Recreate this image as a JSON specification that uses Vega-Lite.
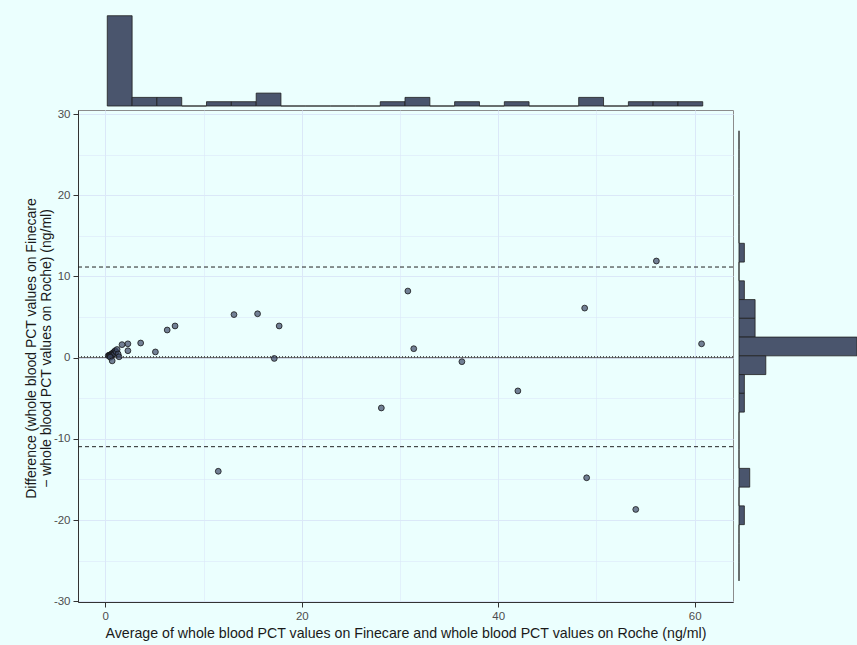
{
  "$schema": "https://vega.github.io/schema/vega-lite/v6.json",
  "background": "#ebfffe",
  "padding": {"left": 23, "top": 11, "right": 0, "bottom": 3},
  "config": {
    "font": "Liberation Sans",
    "view": {"stroke": null}
  },
  "datasets": {
    "points": [
      {"avg": 11.5, "diff": -14.0}, {"avg": 13.1, "diff": 5.3}, {"avg": 15.5, "diff": 5.4},
      {"avg": 17.2, "diff": -0.1}, {"avg": 17.7, "diff": 3.9}, {"avg": 28.1, "diff": -6.2},
      {"avg": 30.8, "diff": 8.2}, {"avg": 31.4, "diff": 1.1}, {"avg": 36.3, "diff": -0.5},
      {"avg": 42.0, "diff": -4.1}, {"avg": 48.8, "diff": 6.1}, {"avg": 49.0, "diff": -14.8},
      {"avg": 54.0, "diff": -18.7}, {"avg": 56.1, "diff": 11.9}, {"avg": 60.7, "diff": 1.7},
      {"avg": 6.3, "diff": 3.4}, {"avg": 7.1, "diff": 3.9}, {"avg": 3.6, "diff": 1.8},
      {"avg": 5.1, "diff": 0.7}, {"avg": 2.3, "diff": 1.7}, {"avg": 2.3, "diff": 0.85},
      {"avg": 1.7, "diff": 1.6},
      {"avg": 0.3, "diff": 0.25}, {"avg": 0.4, "diff": 0.3}, {"avg": 0.45, "diff": 0.25},
      {"avg": 0.5, "diff": 0.35}, {"avg": 0.6, "diff": 0.4}, {"avg": 0.65, "diff": 0.3},
      {"avg": 0.7, "diff": 0.5}, {"avg": 0.75, "diff": 0.4}, {"avg": 0.8, "diff": 0.6},
      {"avg": 0.9, "diff": 0.7}, {"avg": 0.95, "diff": 0.5}, {"avg": 1.0, "diff": 0.85},
      {"avg": 1.1, "diff": 0.7}, {"avg": 1.2, "diff": 1.0}, {"avg": 1.3, "diff": 0.45},
      {"avg": 0.5, "diff": 0.05}, {"avg": 0.7, "diff": -0.4}, {"avg": 1.4, "diff": 0.1}
    ],
    "xhist": [
      {"x0": 0.2, "x1": 2.73, "count": 21}, {"x0": 2.73, "x1": 5.25, "count": 2},
      {"x0": 5.25, "x1": 7.78, "count": 2}, {"x0": 7.78, "x1": 10.3, "count": 0},
      {"x0": 10.3, "x1": 12.83, "count": 1}, {"x0": 12.83, "x1": 15.36, "count": 1},
      {"x0": 15.36, "x1": 17.88, "count": 3}, {"x0": 17.88, "x1": 20.41, "count": 0},
      {"x0": 20.41, "x1": 22.93, "count": 0}, {"x0": 22.93, "x1": 25.46, "count": 0},
      {"x0": 25.46, "x1": 27.99, "count": 0}, {"x0": 27.99, "x1": 30.51, "count": 1},
      {"x0": 30.51, "x1": 33.04, "count": 2}, {"x0": 33.04, "x1": 35.56, "count": 0},
      {"x0": 35.56, "x1": 38.09, "count": 1}, {"x0": 38.09, "x1": 40.62, "count": 0},
      {"x0": 40.62, "x1": 43.14, "count": 1}, {"x0": 43.14, "x1": 45.67, "count": 0},
      {"x0": 45.67, "x1": 48.19, "count": 0}, {"x0": 48.19, "x1": 50.72, "count": 2},
      {"x0": 50.72, "x1": 53.25, "count": 0}, {"x0": 53.25, "x1": 55.77, "count": 1},
      {"x0": 55.77, "x1": 58.3, "count": 1}, {"x0": 58.3, "x1": 60.82, "count": 1}
    ],
    "yhist": [
      {"y0": 25.63, "y1": 27.94, "count": 0}, {"y0": 23.32, "y1": 25.63, "count": 0},
      {"y0": 21.01, "y1": 23.32, "count": 0}, {"y0": 18.7, "y1": 21.01, "count": 0},
      {"y0": 16.39, "y1": 18.7, "count": 0}, {"y0": 14.08, "y1": 16.39, "count": 0},
      {"y0": 11.77, "y1": 14.08, "count": 1}, {"y0": 9.46, "y1": 11.77, "count": 0},
      {"y0": 7.15, "y1": 9.46, "count": 1}, {"y0": 4.84, "y1": 7.15, "count": 3},
      {"y0": 2.53, "y1": 4.84, "count": 3}, {"y0": 0.22, "y1": 2.53, "count": 22},
      {"y0": -2.09, "y1": 0.22, "count": 5}, {"y0": -4.4, "y1": -2.09, "count": 1},
      {"y0": -6.71, "y1": -4.4, "count": 1}, {"y0": -9.02, "y1": -6.71, "count": 0},
      {"y0": -11.33, "y1": -9.02, "count": 0}, {"y0": -13.64, "y1": -11.33, "count": 0},
      {"y0": -15.95, "y1": -13.64, "count": 2}, {"y0": -18.26, "y1": -15.95, "count": 0},
      {"y0": -20.57, "y1": -18.26, "count": 1}, {"y0": -22.88, "y1": -20.57, "count": 0},
      {"y0": -25.19, "y1": -22.88, "count": 0}, {"y0": -27.5, "y1": -25.19, "count": 0}
    ],
    "lines": [
      {"kind": "zero", "diff": 0},
      {"kind": "mean", "diff": 0.1},
      {"kind": "loa", "diff": 11.16},
      {"kind": "loa", "diff": -10.97}
    ]
  },
  "bounds": "flush",
  "spacing": 4,
  "vconcat": [
    {
      "width": 655,
      "height": 95,
      "data": {"name": "xhist"},
      "mark": {"type": "rect", "fill": "#4a556d", "stroke": "#1f1f1f", "strokeWidth": 0.8},
      "encoding": {
        "x": {"field": "x0", "type": "quantitative", "scale": {"domain": [-2.78, 63.9], "nice": false, "zero": false}, "axis": null},
        "x2": {"field": "x1"},
        "y": {"field": "count", "type": "quantitative", "scale": {"domain": [0, 22.1], "nice": false}, "axis": null},
        "y2": {"datum": 0}
      }
    },
    {
      "bounds": "flush",
      "spacing": 6,
      "hconcat": [
        {
          "width": 655,
          "height": 492,
          "view": {"stroke": "#8c8c8c", "strokeWidth": 1},
          "encoding": {
            "y": {
              "field": "diff",
              "type": "quantitative",
              "scale": {"domain": [-30.1, 30.5], "nice": false, "zero": false},
              "axis": {
                "values": [-30, -25, -20, -15, -10, -5, 0, 5, 10, 15, 20, 25, 30],
                "labelExpr": "datum.value % 10 === 0 ? '' + datum.value : ''",
                "title": ["Difference (whole blood PCT values on Finecare", "− whole blood PCT values on Roche) (ng/ml)"],
                "titleFontSize": 14,
                "titleFontWeight": "normal",
                "titleColor": "#1a1a1a",
                "titleLineHeight": 15,
                "titlePadding": 0,
                "titleY": 238,
                "labelFontSize": 11.5,
                "labelColor": "#4d4d4d",
                "labelPadding": 3,
                "tickSize": 5,
                "tickColor": "#333333",
                "tickOpacity": {"condition": {"test": "datum.value % 10 === 0", "value": 1}, "value": 0},
                "domainColor": "#333333",
                "gridColor": "#dbe8f8",
                "gridWidth": {"condition": {"test": "datum.value % 10 === 0", "value": 1}, "value": 0.6}
              }
            }
          },
          "layer": [
            {
              "data": {"name": "lines"},
              "transform": [{"filter": "datum.kind === 'zero'"}],
              "mark": {"type": "rule", "color": "#666666", "strokeWidth": 1}
            },
            {
              "data": {"name": "lines"},
              "transform": [{"filter": "datum.kind === 'mean'"}],
              "mark": {"type": "rule", "color": "#111111", "strokeWidth": 1, "strokeDash": [1, 2]}
            },
            {
              "data": {"name": "lines"},
              "transform": [{"filter": "datum.kind === 'loa'"}],
              "mark": {"type": "rule", "color": "#222222", "strokeWidth": 1, "strokeDash": [4, 3]}
            },
            {
              "data": {"name": "points"},
              "mark": {"type": "point", "filled": true, "shape": "circle", "size": 34, "fill": "#3f4a68", "fillOpacity": 0.7, "stroke": "#111111", "strokeOpacity": 0.85, "strokeWidth": 0.9},
              "encoding": {
                "x": {
                  "field": "avg",
                  "type": "quantitative",
                  "scale": {"domain": [-2.78, 63.9], "nice": false, "zero": false},
                  "axis": {
                    "values": [0, 10, 20, 30, 40, 50, 60],
                    "labelExpr": "datum.value % 20 === 0 ? '' + datum.value : ''",
                    "title": "Average of whole blood PCT values on Finecare and whole blood PCT values on Roche (ng/ml)",
                    "titleFontSize": 14.2,
                    "titleFontWeight": "normal",
                    "titleColor": "#1a1a1a",
                    "titlePadding": 5,
                    "labelFontSize": 11.5,
                    "labelColor": "#4d4d4d",
                    "labelPadding": 3,
                    "tickSize": 5,
                    "tickColor": "#333333",
                    "tickOpacity": {"condition": {"test": "datum.value % 20 === 0", "value": 1}, "value": 0},
                    "domainColor": "#333333",
                    "gridColor": "#dbe8f8",
                    "gridWidth": {"condition": {"test": "datum.value % 20 === 0", "value": 1}, "value": 0.6}
                  }
                }
              }
            }
          ]
        },
        {
          "width": 119,
          "height": 492,
          "data": {"name": "yhist"},
          "mark": {"type": "rect", "fill": "#4a556d", "stroke": "#1f1f1f", "strokeWidth": 0.8},
          "encoding": {
            "y": {"field": "y0", "type": "quantitative", "scale": {"domain": [-30.1, 30.5], "nice": false, "zero": false}, "axis": null},
            "y2": {"field": "y1"},
            "x": {"field": "count", "type": "quantitative", "scale": {"domain": [0, 22.2], "nice": false}, "axis": null},
            "x2": {"datum": 0}
          }
        }
      ]
    }
  ]
}
